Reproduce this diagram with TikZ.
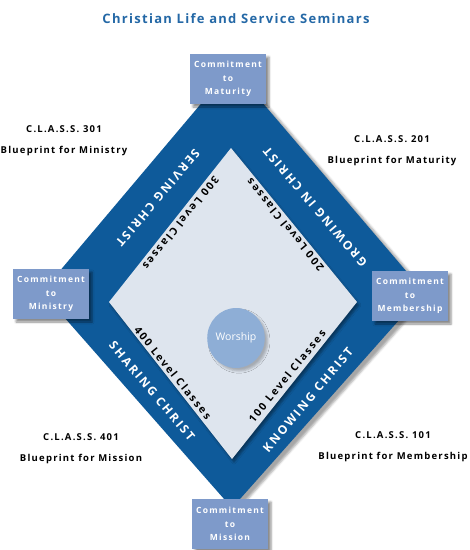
\documentclass[tikz,border=0pt]{standalone}
\usepackage{fontspec}
\setmainfont{Open Sans}
\newfontfamily\titlefont[LetterSpace=10]{Open Sans}
\newfontfamily\boxfont[LetterSpace=15]{Open Sans}
\newfontfamily\bandfont[LetterSpace=18]{Open Sans}
\newfontfamily\levelfont[LetterSpace=18]{Open Sans}
\newfontfamily\classfont[LetterSpace=13]{Open Sans}
\usetikzlibrary{shapes.geometric,shadows.blur}
\definecolor{bandblue}{RGB}{14,90,154}
\definecolor{innergrey}{RGB}{222,229,238}
\definecolor{boxblue}{RGB}{126,154,202}
\definecolor{worshipblue}{RGB}{142,174,214}
\definecolor{titleblue}{RGB}{36,104,166}

\begin{document}
\begin{tikzpicture}[x=1pt,y=-1pt,
  commit/.style={fill=boxblue,text=white,align=center,minimum width=76pt,minimum height=50pt,inner sep=0pt,
    font=\boxfont\bfseries\fontsize{8.5}{13.5}\selectfont,
    blur shadow={shadow xshift=3pt,shadow yshift=-3pt,shadow opacity=45}},
  band/.style={text=white,font=\bandfont\bfseries\fontsize{12}{14}\selectfont},
  level/.style={text=black,font=\levelfont\bfseries\fontsize{10.5}{12}\selectfont},
  seminar/.style={align=center,font=\classfont\bfseries\fontsize{9.5}{21}\selectfont}]
 \useasboundingbox (0,0) rectangle (470,550);

   % outer and inner diamond
   \coordinate (otop) at (232,67);
   \coordinate (oright) at (424,292);
   \coordinate (obot) at (232,508);
   \coordinate (oleft) at (42,292);
   \coordinate (itop) at (231,148);
   \coordinate (iright) at (357,302);
   \coordinate (ibot) at (232,459);
   \coordinate (ileft) at (109,302);

   \fill[bandblue,blur shadow={shadow xshift=5pt,shadow yshift=-3pt,shadow opacity=35}]
     (otop) -- (oright) -- (obot) -- (oleft) -- cycle;
   \fill[innergrey,blur shadow={shadow xshift=2pt,shadow yshift=-3pt,shadow opacity=40}]
     (itop) -- (iright) -- (ibot) -- (ileft) -- cycle;

   \node[text=titleblue,font=\titlefont\bfseries\fontsize{13}{15}\selectfont] (title) at (236,19) {Christian Life and Service Seminars};

   % the four ways
   \node[band,rotate=230] (serving) at (158,198) {SERVING CHRIST};
   \node[band,rotate=130.5] (growing) at (315,207) {GROWING IN CHRIST};
   \node[band,rotate=-50] (sharing) at (152,391) {SHARING CHRIST};
   \node[band,rotate=50] (knowing) at (308,400) {KNOWING CHRIST};

   \node[level,rotate=231.5] (l300) at (181,223) {300 Level Classes};
   \node[level,rotate=129.3] (l200) at (285,225) {200 Level Classes};
   \node[level,rotate=-51] (l400) at (173,373) {400 Level Classes};
   \node[level,rotate=51] (l100) at (287,376) {100 Level Classes};

   \node[ellipse,fill=worshipblue,minimum width=45pt,minimum height=60pt,inner sep=0pt,text=white,
     font=\fontsize{10.5}{12}\selectfont,
     blur shadow={shadow xshift=3pt,shadow yshift=-3pt,shadow opacity=25}] (worship) at (236,338) {Worship};

   % commitments
   \node[commit] (maturity) at (228,79) {Commitment\\to\\Maturity};
   \node[commit] (ministry) at (51,294) {Commitment\\to\\Ministry};
   \node[commit] (membership) at (410,296) {Commitment\\to\\Membership};
   \node[commit] (mission) at (230,524) {Commitment\\to\\Mission};

   % seminars
   \node[seminar] (c301) at (64,141) {C.L.A.S.S. 301\\Blueprint for Ministry};
   \node[seminar] (c201) at (392,151) {C.L.A.S.S. 201\\Blueprint for Maturity};
   \node[seminar] (c401) at (81,449) {C.L.A.S.S. 401\\Blueprint for Mission};
   \node[seminar] (c101) at (393,447) {C.L.A.S.S. 101\\Blueprint for Membership};

\end{tikzpicture}
\end{document}
